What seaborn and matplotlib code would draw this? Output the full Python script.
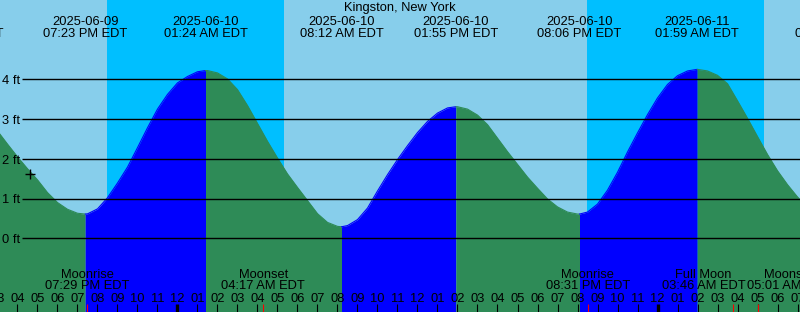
import matplotlib
matplotlib.use("Agg")
import numpy as np
import pandas as pd
import matplotlib.pyplot as plt
import seaborn as sns

# ---------------- data ----------------
TITLE = "Kingston, New York"

# tide height samples (hours since 2025-06-09 00:00 EDT, feet)
sample_hours = [14.5, 15.0, 15.5, 16.0, 16.5, 17.0, 17.5, 18.0, 18.5, 19.0,
                19.5, 20.0, 20.5, 21.0, 21.5, 22.0, 22.5, 23.0, 23.5, 24.0,
                24.5, 25.0, 25.5, 26.0, 26.5, 27.0, 27.5, 28.0, 28.5, 29.0,
                29.5, 30.0, 30.5, 31.0, 31.5, 32.0, 32.5, 33.0, 33.5, 34.0,
                34.5, 35.0, 35.5, 36.0, 36.5, 37.0, 37.5, 38.0, 38.5, 39.0,
                39.5, 40.0, 40.5, 41.0, 41.5, 42.0, 42.5, 43.0, 43.5, 44.0,
                44.5, 45.0, 45.5, 46.0, 46.5, 47.0, 47.5, 48.0, 48.5, 49.0,
                49.5, 50.0, 50.5, 51.0, 51.5, 52.0, 52.5, 53.0, 53.5, 54.0,
                54.5, 55.0, 55.5]
sample_levels = [3.00, 2.70, 2.37, 2.05, 1.75, 1.47, 1.15, 0.90, 0.73, 0.63,
                 0.615, 0.74, 1.02, 1.39, 1.79, 2.28, 2.78, 3.25, 3.62, 3.91,
                 4.07, 4.19, 4.22, 4.16, 4.01, 3.74, 3.34, 2.89, 2.44, 2.02,
                 1.62, 1.28, 0.95, 0.62, 0.40, 0.30, 0.32, 0.47, 0.76, 1.19,
                 1.60, 1.98, 2.33, 2.66, 2.94, 3.15, 3.28, 3.31, 3.25, 3.10,
                 2.86, 2.52, 2.18, 1.86, 1.54, 1.26, 0.99, 0.79, 0.66, 0.61,
                 0.66, 0.86, 1.21, 1.66, 2.17, 2.65, 3.11, 3.53, 3.87, 4.09,
                 4.21, 4.25, 4.21, 4.10, 3.89, 3.46, 3.02, 2.56, 2.11, 1.70,
                 1.35, 1.04, 0.78]

# high / low tide events
event_hours = [13.17, 19.383, 25.4, 32.2, 37.917, 44.1, 49.983, 56.975]
event_levels = [3.30, 0.61, 4.22, 0.29, 3.31, 0.61, 4.25, 0.30]
event_dates = ["2025-06-09", "2025-06-09", "2025-06-10", "2025-06-10",
               "2025-06-10", "2025-06-10", "2025-06-11", "2025-06-11"]
event_times = ["01:10 PM EDT", "07:23 PM EDT", "01:24 AM EDT", "08:12 AM EDT",
               "01:55 PM EDT", "08:06 PM EDT", "01:59 AM EDT", "08:58 AM EDT"]

# night (sunset -> sunrise)
night_start = [20.475, 44.475]
night_end = [29.325, 53.325]

# moon events
moon_hours = [19.483, 28.283, 44.517, 51.767, 53.017]
moon_names = ["Moonrise", "Moonset", "Moonrise", "Full Moon", "Moonset"]
moon_times = ["07:29 PM EDT", "04:17 AM EDT", "08:31 PM EDT", "03:46 AM EDT", "05:01 AM EDT"]

level_ticks = [0, 1, 2, 3, 4]
level_labels = ["0 ft", "1 ft", "2 ft", "3 ft", "4 ft"]
hour_ticks = list(range(15, 56))

marker_hour, marker_level = 16.625, 1.62

# ---------------- style / layout ----------------
W, H = 800, 312
DAY = "#87CEEB"
NIGHT = "#00BFFF"
FALL = "#2E8B57"
RISE = "#0000FF"
FS = 9.3
X0, X1 = 15.125, 55.125
Y0, Y1 = -1.854, 5.995
moon_nudge_px = [0, 0, 0, -29.5, 31]

sns.set_style("white")
plt.rcParams['font.family'] = ['Liberation Sans', 'DejaVu Sans']

fig = plt.figure(figsize=(W / 100, H / 100), dpi=100)
ax = fig.add_axes([0, 0, 1, 1])
ax.set_xlim(X0, X1)
ax.set_ylim(Y0, Y1)
ax.set_facecolor(DAY)
for s in ax.spines.values():
    s.set_visible(False)
ax.set_xticks([])
ax.set_yticks([])

def ya(ypx):
    return 1 - ypx / H

# night shading
for a, b in zip(night_start, night_end):
    ax.axvspan(a, b, color=NIGHT, lw=0, zorder=0)

# tide curve
curve = pd.concat([
    pd.DataFrame({"hour": sample_hours, "level": sample_levels}),
    pd.DataFrame({"hour": event_hours, "level": event_levels}),
]).sort_values("hour").drop_duplicates("hour").reset_index(drop=True)

for i in range(len(event_hours) - 1):
    h0, h1 = event_hours[i], event_hours[i + 1]
    seg = curve[(curve.hour >= h0) & (curve.hour <= h1)]
    if len(seg) < 2:
        continue
    col = RISE if event_levels[i + 1] > event_levels[i] else FALL
    ax.fill_between(seg.hour, Y0 - 1, seg.level, color=col, lw=0, zorder=1)
    sns.lineplot(data=seg, x="hour", y="level", color=col, lw=0.8,
                 estimator=None, sort=True, ax=ax, zorder=2)
ax.set_xlabel("")
ax.set_ylabel("")
ax.set_xlim(X0, X1)
ax.set_ylim(Y0, Y1)

# level grid lines and labels
ax.hlines(level_ticks, xmin=22 / W, xmax=1, transform=ax.get_yaxis_transform(),
          color="black", lw=1.0, zorder=3)
for lv, lab in zip(level_ticks, level_labels):
    ypx = 238.3 - lv * 39.75
    ax.text(2 / W, ya(ypx + 4.7), lab, transform=ax.transAxes, ha="left",
            va="baseline", fontsize=FS, color="black", zorder=4)

# title
ax.text(0.5, ya(11), TITLE, transform=ax.transAxes, ha="center", va="baseline",
        fontsize=FS, color="black", zorder=4)

# tide event labels
tr_x = ax.get_xaxis_transform()
for h, d, t in zip(event_hours, event_dates, event_times):
    ax.text(h, ya(25), d, transform=tr_x, ha="center", va="baseline",
            fontsize=FS, color="black", zorder=4, clip_on=False)
    ax.text(h, ya(36.7), t, transform=tr_x, ha="center", va="baseline",
            fontsize=FS, color="black", zorder=4, clip_on=False)

# hour ticks and labels
for h in hour_ticks:
    lab = f"{((h - 1) % 12) + 1:02d}"
    ax.text(h, ya(301.7), lab, transform=tr_x, ha="center", va="baseline",
            fontsize=FS, color="black", zorder=4)
    lw = 2.4 if h % 24 == 0 else 0.8
    ax.vlines(h, 0, 8 / H, transform=tr_x, color="black", lw=lw, zorder=4)

# moon events
for h, n, t, dx in zip(moon_hours, moon_names, moon_times, moon_nudge_px):
    ax.vlines(h, 0, 8 / H, transform=tr_x, color="red", lw=0.8, zorder=5)
    xh = h + dx / 20.0
    ax.text(xh, ya(278.3), n, transform=tr_x, ha="center", va="baseline",
            fontsize=FS, color="black", zorder=4)
    ax.text(xh, ya(289.3), t, transform=tr_x, ha="center", va="baseline",
            fontsize=FS, color="black", zorder=4)

# cursor mark
ax.plot([marker_hour], [marker_level], marker="+", color="black", ms=7,
        mew=1.0, zorder=6)

fig.savefig("out.png", dpi=100)
